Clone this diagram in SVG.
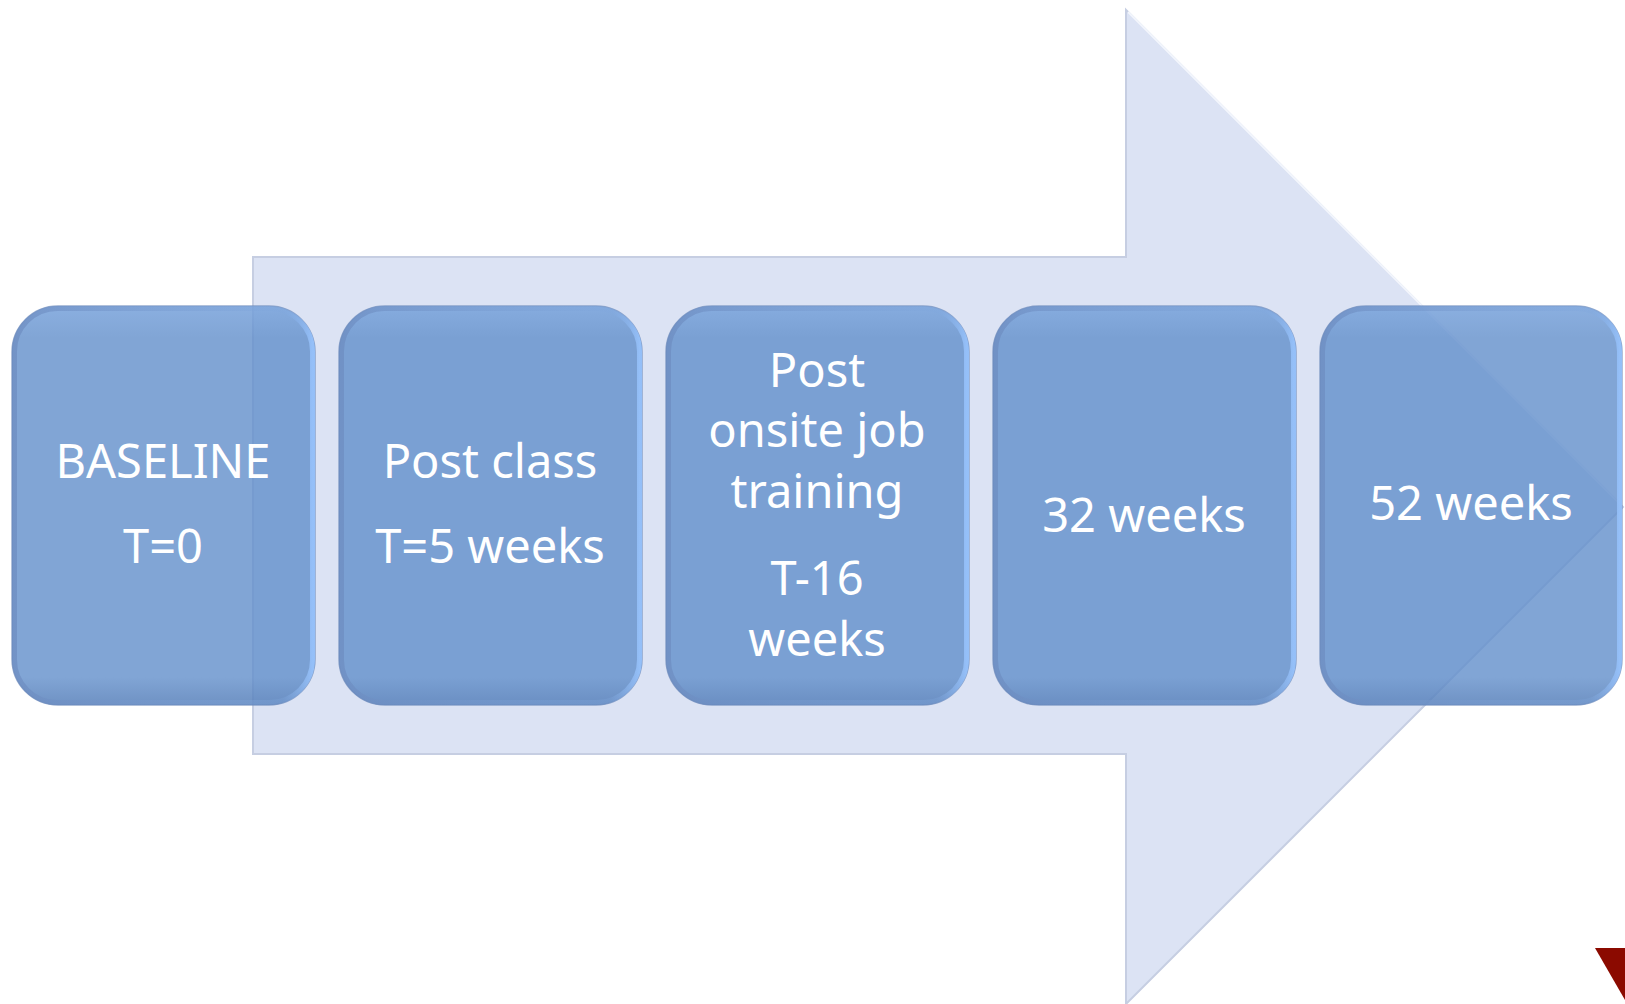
<svg xmlns="http://www.w3.org/2000/svg" width="1625" height="1004" viewBox="0 0 1625 1004">
<style>
.box{fill:rgb(98,142,203);fill-opacity:0.8;stroke:#6a88b8;stroke-opacity:0.7;stroke-width:1.5;}
.edge{fill:none;stroke:url(#edgeGrad);stroke-width:5;}
.lbl{font-family:"Noto Sans","Open Sans",sans-serif;font-size:47px;fill:#ffffff;text-anchor:middle;}
</style>
<defs>
<linearGradient id="edgeGrad" x1="0" y1="0" x2="1" y2="0">
<stop offset="0" stop-color="#6d8cc0" stop-opacity="0.7"/>
<stop offset="0.9" stop-color="#7fa6dc" stop-opacity="0.3"/>
<stop offset="1" stop-color="#96c1fa" stop-opacity="0.95"/>
</linearGradient>
<linearGradient id="shade" x1="0" y1="0" x2="0" y2="1">
<stop offset="0" stop-color="#9cc2f5" stop-opacity="0.35"/>
<stop offset="0.08" stop-color="#9cc2f5" stop-opacity="0"/>
<stop offset="0.93" stop-color="#4d6ea3" stop-opacity="0"/>
<stop offset="1" stop-color="#4d6ea3" stop-opacity="0.35"/>
</linearGradient>
</defs>
<rect width="1625" height="1004" fill="#ffffff"/>
<g id="arrow">
<polygon points="253,257 1126,257 1126,10 1623,507 1126,1004 1126,754 253,754" fill="#dce3f4" stroke="#c6cee2" stroke-width="2"/>
<polyline points="1128,12 1621,505" fill="none" stroke="#f3f6fd" stroke-width="2"/>
</g>
<g id="connectors"></g>
<g id="node1">
<rect class="box" x="12" y="306" width="303" height="399" rx="46"/>
<rect x="12" y="306" width="303" height="399" rx="46" fill="url(#shade)"/>
<rect class="edge" x="14.5" y="308.5" width="298" height="394" rx="43"/>
<text class="lbl" x="163" y="478">BASELINE</text>
<text class="lbl" x="163" y="563">T=0</text>
</g>
<g id="node2">
<rect class="box" x="339" y="306" width="303" height="399" rx="46"/>
<rect x="339" y="306" width="303" height="399" rx="46" fill="url(#shade)"/>
<rect class="edge" x="341.5" y="308.5" width="298" height="394" rx="43"/>
<text class="lbl" x="490" y="478">Post class</text>
<text class="lbl" x="490" y="563">T=5 weeks</text>
</g>
<g id="node3">
<rect class="box" x="666" y="306" width="303" height="399" rx="46"/>
<rect x="666" y="306" width="303" height="399" rx="46" fill="url(#shade)"/>
<rect class="edge" x="668.5" y="308.5" width="298" height="394" rx="43"/>
<text class="lbl" x="817" y="387">Post</text>
<text class="lbl" x="817" y="447">onsite job</text>
<text class="lbl" x="817" y="508">training</text>
<text class="lbl" x="817" y="595">T-16</text>
<text class="lbl" x="817" y="656">weeks</text>
</g>
<g id="node4">
<rect class="box" x="993" y="306" width="303" height="399" rx="46"/>
<rect x="993" y="306" width="303" height="399" rx="46" fill="url(#shade)"/>
<rect class="edge" x="995.5" y="308.5" width="298" height="394" rx="43"/>
<text class="lbl" x="1144" y="532">32 weeks</text>
</g>
<g id="node5">
<rect class="box" x="1320" y="306" width="302" height="399" rx="46"/>
<rect x="1320" y="306" width="302" height="399" rx="46" fill="url(#shade)"/>
<rect class="edge" x="1322.5" y="308.5" width="297" height="394" rx="43"/>
<text class="lbl" x="1471" y="520">52 weeks</text>
</g>
<polygon points="1595,948 1625,948 1625,1000" fill="#8b0a00"/>
</svg>
